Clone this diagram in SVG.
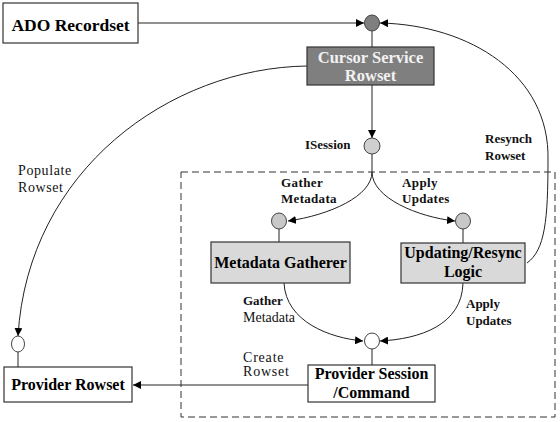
<svg xmlns="http://www.w3.org/2000/svg" width="560" height="422" viewBox="0 0 560 422">
<style>
.box{stroke:#333;stroke-width:1.2}
.w{fill:#fff}
.lg{fill:#d9d9d9}
.dg{fill:#7f7f7f}
.t{font-weight:bold;text-anchor:middle;fill:#000}
.lb{font-weight:bold;font-size:13px;fill:#111}
.lr{font-size:14px;fill:#111}
.c{fill:none;stroke:#222;stroke-width:1}
.a{marker-end:url(#arr)}
.dot{stroke:#444;stroke-width:1}
</style>
<defs>
<marker id="arr" viewBox="0 0 10 10" refX="10" refY="5" markerWidth="8" markerHeight="8" markerUnits="userSpaceOnUse" orient="auto">
<path d="M0,0 L10,5 L0,10 Z" fill="#000"/>
</marker>
</defs>
<rect x="181" y="172" width="374" height="245" fill="none" stroke="#333" stroke-width="1" stroke-dasharray="7,4"/>
<g id="connectors">
<line class="c a" x1="138" y1="23" x2="364" y2="23"/>
<line class="c" x1="372" y1="31" x2="372" y2="47"/>
<line class="c a" x1="372" y1="85" x2="372" y2="138"/>
<path class="c a" d="M372,154 L372,172 C372,196 330,215 288,221"/>
<path class="c a" d="M372,172 C372,198 418,217 455,221"/>
<line class="c" x1="279" y1="229" x2="279" y2="242"/>
<line class="c" x1="463" y1="229" x2="463" y2="243"/>
<path class="c a" d="M284,283 C286,322 330,338 363,341"/>
<path class="c a" d="M463,283 C462,325 420,339 380,341"/>
<line class="c" x1="372" y1="349" x2="372" y2="365"/>
<line class="c a" x1="308" y1="385" x2="133" y2="385"/>
<path class="c a" d="M307,66 C170,68 28,170 18,336"/>
<line class="c" x1="18" y1="352" x2="18" y2="367"/>
<path class="c a" d="M527,263 C545,250 548,220 548,160 C550,75 470,25 380,23"/>
</g>
<g font-family="'Liberation Serif', 'DejaVu Serif', serif">
<g id="ado"><rect class="box w" x="3" y="3" width="135" height="40"/><text class="t" x="70.5" y="31" font-size="17.5">ADO Recordset</text></g>
<g id="cursor"><rect class="box dg" x="307" y="47" width="127" height="38"/><text class="t" x="370.5" y="63" font-size="16.5" style="fill:#f2f2f2">Cursor Service</text><text class="t" x="370.5" y="81" font-size="16.5" style="fill:#f2f2f2">Rowset</text></g>
<g id="top-joint"><ellipse class="dot" cx="372" cy="23" rx="7.5" ry="8" fill="#7f7f7f"/></g>
<g id="isession"><ellipse class="dot" cx="372" cy="146" rx="8" ry="8" fill="#cfcfcf"/></g>
<g id="meta-port"><ellipse class="dot" cx="279" cy="221" rx="7.5" ry="8" fill="#c8c8c8"/></g>
<g id="upd-port"><ellipse class="dot" cx="463" cy="221" rx="7.5" ry="8" fill="#c8c8c8"/></g>
<g id="sess-port"><ellipse class="dot" cx="372" cy="341" rx="7.5" ry="8" fill="#fff"/></g>
<g id="prov-port"><ellipse class="dot" cx="18" cy="344" rx="6.5" ry="8" fill="#fff"/></g>
<g id="metadata"><rect class="box lg" x="211" y="242" width="139" height="41"/><text class="t" x="280.5" y="268" font-size="16">Metadata Gatherer</text></g>
<g id="updating"><rect class="box lg" x="401" y="243" width="124" height="40"/><text class="t" x="463" y="258" font-size="16">Updating/Resync</text><text class="t" x="463" y="277" font-size="16">Logic</text></g>
<g id="provider-rowset"><rect class="box w" x="4" y="367" width="128" height="35"/><text class="t" x="68" y="390" font-size="16">Provider Rowset</text></g>
<g id="provider-session"><rect class="box w" x="308" y="365" width="127" height="37"/><text class="t" x="371.5" y="379" font-size="16">Provider Session</text><text class="t" x="371.5" y="398" font-size="16">/Command</text></g>
<g id="labels">
<text class="lr" x="18" y="175" letter-spacing="0.6">Populate</text>
<text class="lr" x="18" y="192" letter-spacing="0.6">Rowset</text>
<text class="lb" x="305" y="149" font-size="13.5">ISession</text>
<text class="lb" x="281" y="187" letter-spacing="0.4">Gather</text>
<text class="lb" x="281" y="203" letter-spacing="0.3">Metadata</text>
<text class="lb" x="402" y="187" letter-spacing="0.4">Apply</text>
<text class="lb" x="402" y="203" letter-spacing="0.3">Updates</text>
<text class="lb" x="485" y="143" font-size="13.5">Resynch</text>
<text class="lb" x="485" y="160" font-size="13.5">Rowset</text>
<text class="lb" x="243" y="305" font-size="11.5">Gather</text>
<text class="lr" x="243" y="322" font-size="14.5">Metadata</text>
<text class="lb" x="466" y="308" font-size="14">Apply</text>
<text class="lb" x="466" y="325" font-size="14">Updates</text>
<text class="lr" x="243" y="362" font-size="10.5" letter-spacing="0.8">Create</text>
<text class="lr" x="243" y="376" font-size="10.5" letter-spacing="0.8">Rowset</text>
</g>
</g>
</svg>
